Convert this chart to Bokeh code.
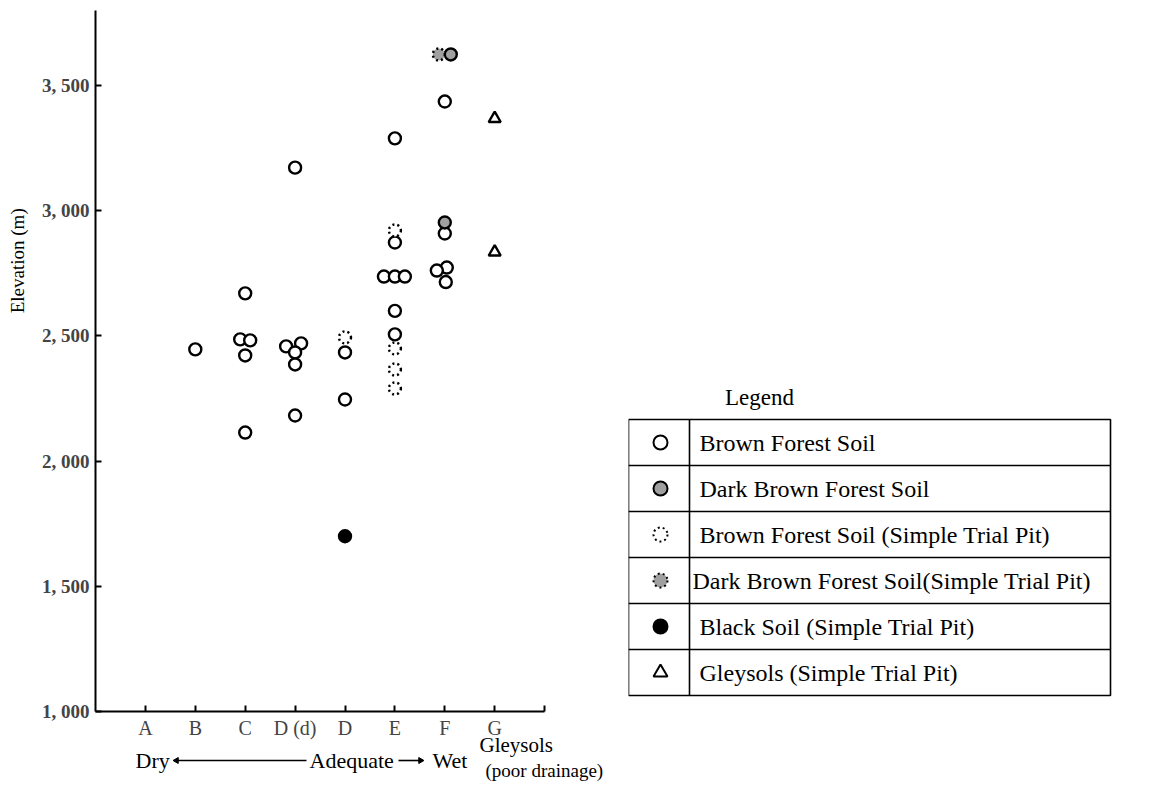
from bokeh.plotting import figure
from bokeh.models import Range1d, FixedTicker
from bokeh.layouts import row
from bokeh.embed import file_html
from bokeh.resources import INLINE
from bokeh.core.properties import value

# ---------------- data ----------------
categories = ["A", "B", "C", "D (d)", "D", "E", "F", "G"]
y_ticks = [1000, 1500, 2000, 2500, 3000, 3500]
y_tick_labels = ["1, 000", "1, 500", "2, 000", "2, 500", "3, 000", "3, 500"]

# Brown Forest Soil
bfs_cat = ["B", "C", "C", "C", "C", "C",
           "D (d)", "D (d)", "D (d)", "D (d)", "D (d)", "D (d)",
           "D", "D",
           "E", "E", "E", "E", "E", "E", "E",
           "F", "F", "F", "F", "F"]
bfs_elev = [2446, 2670, 2486, 2482, 2422, 2114,
            3172, 2458, 2470, 2434, 2386, 2182,
            2434, 2246,
            3289, 2873, 2737, 2737, 2737, 2600, 2506,
            3436, 2909, 2773, 2761, 2715]
bfs_dodge = [0, 0, -0.1, 0.1, 0, 0,
             0, -0.18, 0.12, 0, 0, 0,
             0, 0,
             0, 0, -0.22, 0, 0.2, 0, 0,
             0, 0, 0.04, -0.16, 0.02]

# Dark Brown Forest Soil
dbfs_cat = ["F", "F"]
dbfs_elev = [2953, 3624]
dbfs_dodge = [0, 0.12]

# Brown Forest Soil (Simple Trial Pit)
bfs_pit_cat = ["D", "E", "E", "E", "E"]
bfs_pit_elev = [2494, 2921, 2450, 2366, 2290]
bfs_pit_dodge = [0, 0, 0, 0, 0]

# Dark Brown Forest Soil (Simple Trial Pit)
dbfs_pit_cat = ["F"]
dbfs_pit_elev = [3624]
dbfs_pit_dodge = [-0.12]

# Black Soil (Simple Trial Pit)
black_cat = ["D"]
black_elev = [1700]
black_dodge = [0]

# Gleysols (Simple Trial Pit)
gley_cat = ["G", "G"]
gley_elev = [3368, 2835]
gley_dodge = [0, 0]

legend_labels = ["Brown Forest Soil",
                 "Dark Brown Forest Soil",
                 "Brown Forest Soil  (Simple Trial Pit)",
                 "Dark Brown Forest Soil(Simple Trial Pit)",
                 "Black Soil (Simple Trial Pit)",
                 "Gleysols (Simple Trial Pit)"]

# ---------------- styles ----------------
FONT = "Liberation Serif"
styles = [
    dict(marker="circle", fill_color="white", line_color="black", line_dash="solid"),
    dict(marker="circle", fill_color="#a0a0a0", line_color="black", line_dash="solid"),
    dict(marker="circle", fill_color="white", line_color="black", line_dash="2 3"),
    dict(marker="circle", fill_color="#a0a0a0", line_color="black", line_dash="2 3"),
    dict(marker="circle", fill_color="black", line_color="black", line_dash="solid"),
    dict(marker="triangle", fill_color="white", line_color="black", line_dash="solid"),
]
series = [
    (bfs_cat, bfs_elev, bfs_dodge),
    (dbfs_cat, dbfs_elev, dbfs_dodge),
    (bfs_pit_cat, bfs_pit_elev, bfs_pit_dodge),
    (dbfs_pit_cat, dbfs_pit_elev, dbfs_pit_dodge),
    (black_cat, black_elev, black_dodge),
    (gley_cat, gley_elev, gley_dodge),
]

def xpos(cats, dodge):
    return [categories.index(c) + 1 + d for c, d in zip(cats, dodge)]

# ---------------- main plot ----------------
W, H = 628, 782
AX_LEFT = 95            # pixel position of the y axis inside the figure
PX_PER_CAT = 49.9
Y0_PX = 711             # pixel position of elevation 1000 (x axis)
PX_PER_M = 0.2504
x_start = -AX_LEFT / PX_PER_CAT
x_end = (W - AX_LEFT) / PX_PER_CAT
y_start = 1000 - (H - Y0_PX) / PX_PER_M
y_end = 1000 + Y0_PX / PX_PER_M

def px_x(px):
    return (px - AX_LEFT) / PX_PER_CAT

def px_y(px):
    return 1000 - (px - Y0_PX) / PX_PER_M

p = figure(width=W, height=H, output_backend="svg", toolbar_location=None,
           x_range=Range1d(x_start, x_end), y_range=Range1d(y_start, y_end),
           min_border=0)
p.outline_line_color = None
p.grid.visible = False

for (cats, elev, dodge), st in zip(series, styles):
    p.scatter(x=xpos(cats, dodge), y=elev, size=12, line_width=2.4, **st)

ya = p.yaxis[0]
ya.fixed_location = 0
ya.bounds = (1000, 3800)
ya.ticker = FixedTicker(ticks=y_ticks)
ya.major_label_overrides = {t: l for t, l in zip(y_ticks, y_tick_labels)}
ya.major_tick_in = 6
ya.major_tick_out = 0
ya.minor_tick_line_color = None
ya.axis_line_width = 2
ya.major_tick_line_width = 2
ya.major_label_text_font = FONT
ya.major_label_text_font_style = "bold"
ya.major_label_text_font_size = "19px"
ya.major_label_standoff = 6

xa = p.xaxis[0]
xa.fixed_location = 1000
xa.bounds = (0, len(categories) + 1)
xticks = list(range(1, len(categories) + 2))
xa.ticker = FixedTicker(ticks=xticks)
ov = {i + 1: c for i, c in enumerate(categories)}
ov[len(categories) + 1] = ""
xa.major_label_overrides = ov
xa.major_tick_in = 6
xa.major_tick_out = 0
xa.minor_tick_line_color = None
xa.axis_line_width = 2
xa.major_tick_line_width = 2
xa.major_label_text_font = FONT
xa.major_label_text_font_size = "20px"
xa.major_label_standoff = 5

txt = dict(text_align="left", text_baseline="middle", text_font=value(FONT), text_color="black")

p.text(x=[px_x(17)], y=[2800], text=["Elevation (m)"], angle=1.5708,
       text_align="center", text_baseline="middle",
       text_font=value(FONT), text_font_size="19px", text_color="black")

# drainage scale: Dry <----- Adequate --> Wet
row_y = px_y(760)
p.text(x=[px_x(135), px_x(309), px_x(432)], y=[row_y] * 3,
       text=["Dry", "Adequate", "Wet"], text_font_size="22px", **txt)
p.segment(x0=[px_x(174), px_x(398)], x1=[px_x(306), px_x(422)],
          y0=[row_y, row_y], y1=[row_y, row_y], line_color="black", line_width=1.6)
p.scatter(x=[px_x(176), px_x(420)], y=[row_y, row_y], marker="triangle", size=6,
          angle=[1.5708, -1.5708], fill_color="black", line_color="black")

p.text(x=[px_x(479)], y=[px_y(744)], text=["Gleysols"], text_font_size="21px", **txt)
p.text(x=[px_x(485)], y=[px_y(770)], text=["(poor drainage)"], text_font_size="19px", **txt)

# ---------------- legend table ----------------
LW, LH = 1158 - W, 782
OFF = W   # legend figure starts where the main figure ends
lg = figure(width=LW, height=LH, output_backend="svg", toolbar_location=None,
            x_range=Range1d(OFF, OFF + LW), y_range=Range1d(LH, 0),
            x_axis_type=None, y_axis_type=None, min_border=0)
lg.outline_line_color = None
lg.grid.visible = False

box_l, box_r, box_t, row_h = 628, 1110, 419, 46
div_x = 689
n = len(legend_labels)
box_b = box_t + n * row_h
lg.quad(left=box_l, right=box_r, top=box_t, bottom=box_b, fill_color=None,
        line_color="black", line_width=1.6)
seps = [box_t + row_h * (i + 1) for i in range(n - 1)]
lg.segment(x0=[box_l] * len(seps), x1=[box_r] * len(seps), y0=seps, y1=seps,
           line_color="black", line_width=1.6)
lg.segment(x0=[div_x], x1=[div_x], y0=[box_t], y1=[box_b], line_color="black", line_width=1.6)
centers = [box_t + row_h * (i + 0.5) for i in range(n)]
for i, st in enumerate(styles):
    lg.scatter(x=[660], y=[centers[i]], size=14, line_width=2, **st)
text_x = [699, 699, 699, 692, 699, 699]
lg.text(x=text_x, y=centers, text=legend_labels, text_baseline="middle", text_align="left",
        text_font=value(FONT), text_font_size="24px", text_color="black")
lg.text(x=[759], y=[397], text=["Legend"], text_baseline="middle", text_align="center",
        text_font=value(FONT), text_font_size="23px", text_color="black")

layout = row(p, lg)
open("out.html", "w").write(file_html(layout, INLINE))
